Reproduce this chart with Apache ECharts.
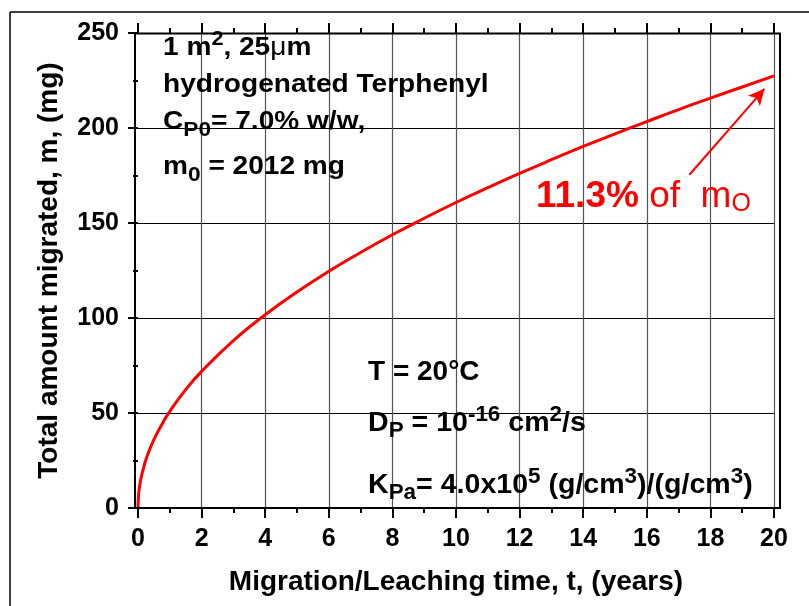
<!DOCTYPE html>
<html>
<head>
<meta charset="utf-8">
<script src="https://cdn.jsdelivr.net/npm/echarts@6/dist/echarts.min.js"></script>
<style>
html,body{margin:0;padding:0;background:#fff;}
#chart{width:809px;height:606px;}
</style>
</head>
<body>
<div id="chart"></div>
<script>
// Data
const years = [0, 0.02, 0.05, 0.1, 0.2, 0.3, 0.5, 0.75, 1, 1.5, 2, 3, 4, 5, 6, 7, 8, 9, 10, 11, 12, 13, 14, 15, 16, 17, 18, 19, 20];
const migrated = [0, 7.2, 11.4, 16.1, 22.7, 27.9, 36, 44, 50.9, 62.3, 71.9, 88.1, 101.7, 113.7, 124.6, 134.5, 143.8, 152.5, 160.8, 168.6, 176.1, 183.3, 190.3, 196.9, 203.4, 209.7, 215.7, 221.6, 227.4];
const xTicks = [0, 2, 4, 6, 8, 10, 12, 14, 16, 18, 20];
const yTicks = [0, 50, 100, 150, 200, 250];
const arrowFrom = [17.34, 175.4];
const arrowTo = [19.7, 220.6];

const FONT = "'Liberation Sans', Arial, sans-serif";
const chart = echarts.init(document.getElementById('chart'), null, {renderer: 'canvas'});

const seriesData = years.map((t, i) => [t, migrated[i]]);

function richSet(size, color) {
  return {
    b: {fontFamily: FONT, fontWeight: 'bold', fontSize: size, fill: color, lineHeight: 38},
    mu: {fontFamily: FONT, fontWeight: 'normal', fontSize: size, fill: color, lineHeight: 38},
    sup: {fontFamily: FONT, fontWeight: 'bold', fontSize: Math.round(size * 0.78), fill: color, verticalAlign: 'top', lineHeight: 12},
    sub: {fontFamily: FONT, fontWeight: 'bold', fontSize: Math.round(size * 0.8), fill: color, verticalAlign: 'bottom', lineHeight: 16}
  };
}
function txt(x, y, text, rich, sx) {
  return {
    type: 'text', x: x, y: y, scaleX: sx || 1, silent: true, z: 100,
    style: {text: text, rich: rich, verticalAlign: 'middle', align: 'left', font: 'bold 26px ' + FONT, fill: '#000'}
  };
}
const richTop = richSet(26, '#000');
const richBottom = richSet(28, '#000');

const option = {
  backgroundColor: '#fff',
  animation: false,
  grid: {left: 138, right: 35, top: 33, bottom: 98, containLabel: false},
  xAxis: [{
    type: 'value', position: 'bottom', min: xTicks[0], max: xTicks[xTicks.length - 1], interval: 2,
    name: 'Migration/Leaching time, t, (years)', nameLocation: 'middle', nameGap: 60,
    nameTextStyle: {fontFamily: FONT, fontWeight: 'bold', fontSize: 28, color: '#000'},
    axisLine: {show: false},
    axisTick: {show: true, inside: false, length: 10, lineStyle: {color: '#000', width: 2}},
    minorTick: {show: true, splitNumber: 2, length: 5, lineStyle: {color: '#000', width: 2}},
    axisLabel: {fontFamily: FONT, fontWeight: 'bold', fontSize: 25, color: '#000', margin: 19},
    splitLine: {show: true, showMinLine: false, lineStyle: {color: '#555', width: 1.2}}
  }, {
    type: 'value', position: 'top', min: xTicks[0], max: xTicks[xTicks.length - 1], interval: 2,
    axisLine: {show: false},
    axisTick: {show: true, inside: false, length: 10, lineStyle: {color: '#000', width: 2}},
    minorTick: {show: true, splitNumber: 2, length: 5, lineStyle: {color: '#000', width: 2}},
    axisLabel: {show: false},
    splitLine: {show: false}
  }],
  yAxis: [{
    type: 'value', position: 'left', offset: 3, min: yTicks[0], max: yTicks[yTicks.length - 1], interval: 50,
    name: 'Total amount migrated, m, (mg)', nameLocation: 'middle', nameGap: 72,
    nameTextStyle: {fontFamily: FONT, fontWeight: 'bold', fontSize: 28, color: '#000'},
    axisLine: {show: false},
    axisTick: {show: true, inside: false, length: 10, lineStyle: {color: '#000', width: 2}},
    minorTick: {show: true, splitNumber: 2, length: 5, lineStyle: {color: '#000', width: 2}},
    axisLabel: {fontFamily: FONT, fontWeight: 'bold', fontSize: 25, color: '#000', margin: 16},
    splitLine: {show: true, showMinLine: false, showMaxLine: false, lineStyle: {color: '#000', width: 1}}
  }],
  series: [{
    type: 'line', data: seriesData, smooth: true, showSymbol: false, symbol: 'none',
    lineStyle: {color: '#ff0000', width: 3}, z: 10,
    markLine: {
      silent: true, symbol: ['none', 'arrow'], symbolSize: [12, 16],
      label: {show: false},
      lineStyle: {color: '#ff0000', width: 2, type: 'solid'},
      data: [[{coord: arrowFrom}, {coord: arrowTo}]]
    }
  }],
  graphic: [
    {type: 'line', shape: {x1: 10, y1: 12, x2: 809, y2: 12}, style: {stroke: '#000', lineWidth: 1.5}, silent: true},
    {type: 'line', shape: {x1: 10, y1: 12, x2: 10, y2: 606}, style: {stroke: '#000', lineWidth: 1.5}, silent: true},
    {type: 'rect', shape: {x: 135, y: 33.5, width: 645, height: 474.5}, style: {stroke: '#000', lineWidth: 2, fill: null}, silent: true, z: 50},
    txt(163, 48, '{b|1 m}{sup|2}{b|, 25}{mu|\u03bc}{b|m}', richTop, 1.08),
    txt(163, 85, '{b|hydrogenated Terphenyl}', richTop, 1.08),
    txt(163, 122, '{b|C}{sub|P0}{b|= 7.0% w/w,}', richTop, 1.08),
    txt(163, 167, '{b|m}{sub|0}{b| = 2012 mg}', richTop, 1.08),
    txt(368, 372, '{b|T = 20\u00b0C}', richBottom, 1.0),
    txt(368, 423, '{b|D}{sub|P}{b| = 10}{sup|-16}{b| cm}{sup|2}{b|/s}', richBottom, 1.02),
    txt(368, 485, '{b|K}{sub|Pa}{b|= 4.0x10}{sup|5}{b| (g/cm}{sup|3}{b|)/(g/cm}{sup|3}{b|)}', richBottom, 1.02),
    txt(536, 197, '{rb|11.3%}{rn| of  m}{rs|O}', {
      rb: {fontFamily: FONT, fontWeight: 'bold', fontSize: 37, fill: '#ff0000', lineHeight: 40},
      rn: {fontFamily: FONT, fontWeight: 'normal', fontSize: 37, fill: '#ff0000', lineHeight: 40},
      rs: {fontFamily: FONT, fontWeight: 'normal', fontSize: 25, fill: '#ff0000', verticalAlign: 'bottom', lineHeight: 20}
    })
  ]
};
chart.setOption(option);
</script>
</body>
</html>
